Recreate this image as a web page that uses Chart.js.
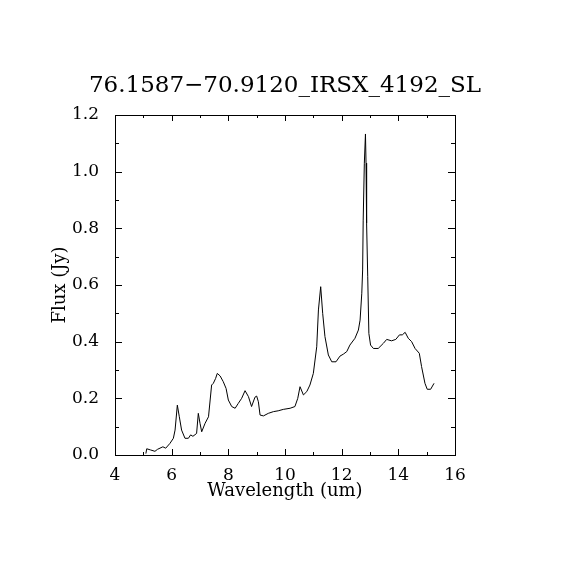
<!DOCTYPE html>
<html>
<head>
<meta charset="utf-8">
<script src="https://cdn.jsdelivr.net/npm/chart.js@4"></script>
<style>
  html, body { margin: 0; padding: 0; background: #fff; }
  canvas { display: block; }
</style>
</head>
<body>
<canvas id="spec" width="570" height="570"></canvas>
<script>
const chartTitle = "76.1587\u221270.9120_IRSX_4192_SL";
const xLabel = "Wavelength (um)";
const yLabel = "Flux (Jy)";

const wavelength = [
  5.09, 5.12, 5.25, 5.41, 5.50, 5.69, 5.79, 5.94, 6.06, 6.12, 6.20, 6.27, 6.35,
  6.47, 6.59, 6.67, 6.75, 6.88, 6.94, 7.00, 7.06, 7.18, 7.30, 7.41, 7.47, 7.55,
  7.61, 7.71, 7.82, 7.92, 8.00, 8.12, 8.24, 8.35, 8.47, 8.59, 8.71, 8.82, 8.94,
  9.00, 9.06, 9.12, 9.24, 9.41, 9.59, 9.76, 9.94, 10.18, 10.35, 10.45, 10.53,
  10.65, 10.77, 10.88, 11.00, 11.12, 11.18, 11.26, 11.33, 11.41, 11.53, 11.65,
  11.80, 11.94, 12.06, 12.18, 12.29, 12.47, 12.59, 12.65, 12.71, 12.74, 12.76,
  12.80, 12.84, 12.86, 12.88, 12.92, 12.96, 13.02, 13.12, 13.29, 13.47, 13.59,
  13.76, 13.91, 14.04, 14.14, 14.24, 14.35, 14.47, 14.59, 14.74, 14.82, 14.94,
  15.02, 15.14, 15.26
];
const flux = [
  0.005, 0.022, 0.018, 0.013, 0.020, 0.029, 0.024, 0.041, 0.059, 0.088, 0.176, 0.135, 0.088,
  0.059, 0.059, 0.071, 0.066, 0.076, 0.147, 0.112, 0.082, 0.112, 0.135, 0.247, 0.253, 0.270,
  0.288, 0.279, 0.259, 0.235, 0.194, 0.171, 0.165, 0.182, 0.200, 0.227, 0.206, 0.171, 0.204,
  0.208, 0.188, 0.141, 0.138, 0.147, 0.153, 0.156, 0.161, 0.165, 0.171, 0.200, 0.241,
  0.212, 0.224, 0.247, 0.288, 0.382, 0.512, 0.594, 0.500, 0.418, 0.353, 0.329,
  0.329, 0.349, 0.356, 0.365, 0.388, 0.412, 0.441, 0.476, 0.571, 0.653, 0.829,
  1.030, 1.133, 1.030, 0.818, 0.629, 0.429, 0.388, 0.376, 0.376, 0.394, 0.408,
  0.403, 0.408, 0.424, 0.424, 0.433, 0.412, 0.400, 0.376, 0.359, 0.312, 0.253,
  0.232, 0.232, 0.253
];

const xRange = [4, 16];
const yRange = [0, 1.2];
const xMajor = 2, xMinor = 1;
const yMajor = 0.2, yMinor = 0.1;

const FONT = "'DejaVu Serif', 'Liberation Serif', serif";

// frame, inward ticks on all four sides, and the title
const framePlugin = {
  id: "frame",
  afterDraw(chart) {
    const { ctx, chartArea: a, scales: { x, y } } = chart;
    ctx.save();
    ctx.strokeStyle = "#000";
    ctx.lineWidth = 1;
    ctx.strokeRect(a.left + 0.5, a.top + 0.5, a.right - a.left, a.bottom - a.top);

    ctx.beginPath();
    for (let v = xRange[0]; v <= xRange[1] + 1e-9; v += xMinor) {
      const px = Math.round(x.getPixelForValue(v)) + 0.5;
      const len = Math.abs(v % xMajor) < 1e-9 ? 6 : 3;
      ctx.moveTo(px, a.bottom); ctx.lineTo(px, a.bottom - len);
      ctx.moveTo(px, a.top); ctx.lineTo(px, a.top + len);
    }
    for (let i = 0; i <= Math.round((yRange[1] - yRange[0]) / yMinor); i++) {
      const v = yRange[0] + i * yMinor;
      const py = Math.round(y.getPixelForValue(v)) + 0.5;
      const len = i % 2 === 0 ? 7 : 4;
      ctx.moveTo(a.left, py); ctx.lineTo(a.left + len, py);
      ctx.moveTo(a.right, py); ctx.lineTo(a.right - len, py);
    }
    ctx.stroke();

    ctx.fillStyle = "#000";
    ctx.font = "23px " + FONT;
    ctx.textAlign = "center";
    ctx.textBaseline = "alphabetic";
    ctx.fillText(chartTitle, (a.left + a.right) / 2, 92);
    ctx.restore();
  }
};

new Chart(document.getElementById("spec"), {
  type: "scatter",
  data: {
    datasets: [{
      data: wavelength.map((w, i) => ({ x: w, y: flux[i] })),
      showLine: true,
      borderColor: "#000",
      borderWidth: 1,
      pointRadius: 0,
      tension: 0,
      fill: false
    }]
  },
  options: {
    responsive: false,
    animation: false,
    devicePixelRatio: 1,
    layout: { padding: { left: 0, right: 115, top: 115, bottom: 0 } },
    plugins: {
      legend: { display: false },
      tooltip: { enabled: false },
      title: { display: false }
    },
    scales: {
      x: {
        type: "linear",
        min: xRange[0],
        max: xRange[1],
        afterFit: (s) => { s.height = 115; },
        grid: { display: false },
        border: { display: false },
        ticks: {
          stepSize: xMajor,
          color: "#000",
          padding: 2,
          maxRotation: 0,
          font: { family: FONT, size: 17 }
        },
        title: {
          display: true,
          text: xLabel,
          color: "#000",
          font: { family: FONT, size: 18 },
          padding: { top: 0, bottom: 68 }
        }
      },
      y: {
        type: "linear",
        min: yRange[0],
        max: yRange[1],
        afterFit: (s) => { s.width = 115; },
        grid: { display: false },
        border: { display: false },
        ticks: {
          stepSize: yMajor,
          color: "#000",
          padding: 8,
          font: { family: FONT, size: 17 },
          callback: (v) => v.toFixed(1)
        },
        title: {
          display: true,
          text: yLabel,
          color: "#000",
          font: { family: FONT, size: 18 },
          padding: { top: 50, bottom: 0 }
        }
      }
    }
  },
  plugins: [framePlugin]
});
</script>
</body>
</html>
